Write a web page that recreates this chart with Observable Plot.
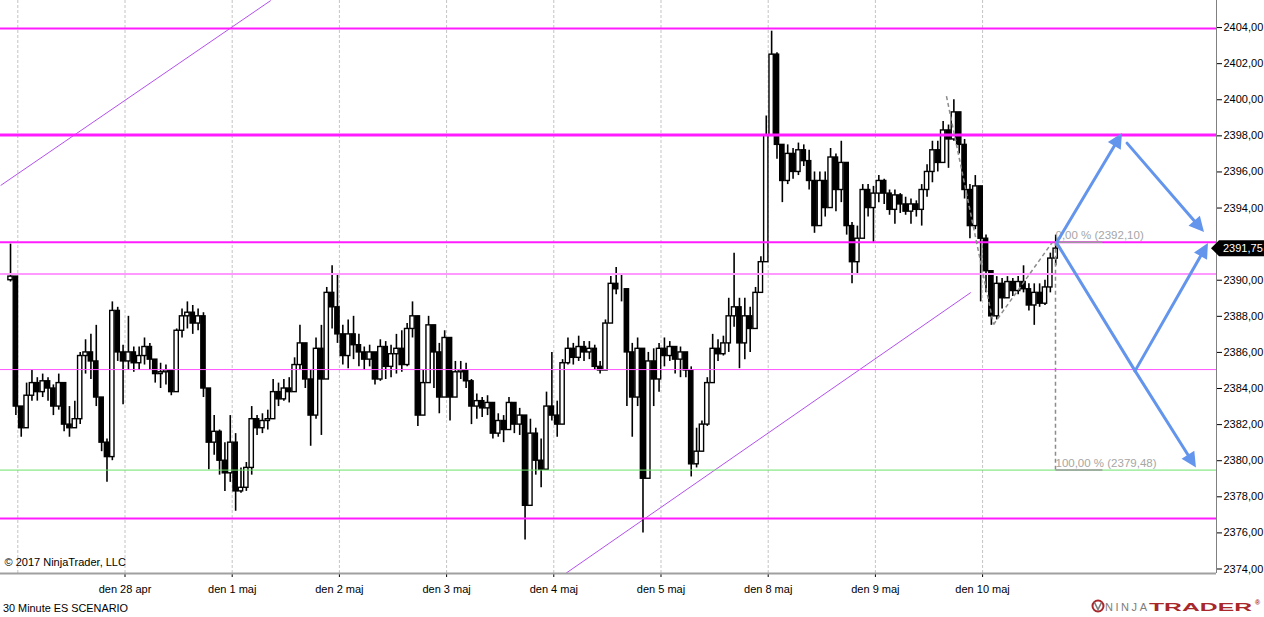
<!DOCTYPE html>
<html><head><meta charset="utf-8">
<script src="https://cdn.jsdelivr.net/npm/d3@7"></script>
<script src="https://cdn.jsdelivr.net/npm/@observablehq/plot@0.6"></script>
<style>
html,body{margin:0;padding:0;background:#fff;overflow:hidden}
#wrap{position:relative;width:1264px;height:617px;font-family:"Liberation Sans",Arial,sans-serif}
#overlay{position:absolute;left:0;top:0;pointer-events:none}
</style></head><body>
<div id="wrap"><div id="chart"></div>
<svg id="overlay" width="1264" height="617"></svg>
</div>
<script>
// ---------- DATA ----------
const firstOpen = 2390.0;
const closes = [
2390.2,2383.0,2381.8,2383.6,2384.3,2383.8,2384.4,2384.0,2383.0,2384.3,
2382.0,2381.8,2382.3,2385.8,2386.0,2385.5,2383.5,2381.0,2380.2,2388.3,
2386.0,2385.5,2386.0,2385.4,2385.8,2386.3,2385.6,2384.8,2384.9,2385.0,
2383.8,2387.2,2388.0,2388.2,2387.6,2388.0,2384.0,2381.0,2381.6,2380.0,
2379.3,2381.0,2378.3,2378.5,2379.6,2382.3,2381.8,2382.2,2382.3,2383.8,
2383.4,2384.0,2383.8,2385.3,2386.5,2384.5,2382.5,2386.2,2384.5,2389.3,
2388.5,2387.0,2385.8,2387.0,2386.4,2386.0,2385.6,2386.0,2384.5,2386.3,
2385.2,2385.9,2386.2,2385.3,2387.3,2388.0,2382.5,2384.3,2387.5,2386.0,
2383.5,2386.8,2383.5,2384.9,2385.0,2384.4,2383.0,2383.3,2382.9,2383.2,
2381.5,2382.2,2381.7,2383.2,2382.0,2382.5,2377.5,2381.5,2380.0,2379.5,
2383.0,2382.5,2382.0,2385.4,2386.2,2385.7,2386.3,2386.0,2386.2,2385.2,
2385.0,2387.6,2389.8,2389.5,2389.5,2386.0,2383.5,2386.2,2379.0,2385.5,
2384.5,2386.2,2385.8,2386.3,2385.6,2386.0,2385.0,2379.8,2380.5,2382.0,
2384.3,2386.2,2385.9,2386.5,2388.0,2388.5,2386.5,2388.0,2387.3,2389.3,
2391.0,2398.0,2402.5,2397.5,2395.5,2397.0,2396.0,2397.2,2396.6,2395.5,
2393.0,2395.5,2394.0,2396.8,2395.0,2396.5,2393.0,2391.0,2392.3,2395.0,
2394.0,2394.8,2395.5,2394.8,2393.9,2394.7,2394.2,2393.8,2394.2,2393.9,
2395.0,2396.0,2397.2,2396.5,2398.3,2397.8,2399.3,2397.5,2395.0,2393.0,
2395.2,2392.3,2390.5,2388.0,2389.8,2389.0,2389.9,2389.4,2389.9,2389.5,
2388.6,2389.3,2388.7,2389.6,2391.2,2391.75];
const highs = [
2392.0,2390.0,2383.0,2384.3,2385.0,2384.6,2384.8,2384.6,2384.2,2384.8,
2384.0,2383.0,2383.3,2386.0,2386.7,2387.0,2387.5,2383.5,2381.2,2388.8,
2388.5,2386.4,2388.0,2386.3,2386.3,2386.8,2386.5,2385.6,2385.4,2385.3,
2385.0,2387.3,2388.4,2388.8,2388.6,2388.4,2388.2,2383.0,2382.5,2381.7,
2381.0,2382.5,2381.5,2379.6,2379.9,2383.0,2382.5,2382.6,2382.8,2384.5,
2384.3,2384.5,2384.6,2385.7,2387.5,2386.5,2385.0,2386.8,2387.5,2389.6,
2390.8,2390.3,2387.5,2387.8,2388.0,2387.0,2386.3,2386.4,2385.5,2386.7,
2386.6,2386.4,2387.0,2387.2,2387.6,2388.8,2388.0,2385.0,2388.0,2387.5,
2386.5,2387.2,2386.5,2385.5,2385.5,2385.4,2384.5,2383.7,2383.5,2383.6,
2383.0,2382.6,2382.5,2383.5,2383.2,2382.9,2382.5,2382.3,2381.8,2381.2,
2383.8,2386.0,2383.3,2385.6,2386.8,2386.5,2386.9,2386.6,2386.6,2386.4,
2385.5,2387.8,2390.2,2390.7,2390.3,2389.5,2386.5,2386.8,2384.0,2386.0,
2386.2,2386.5,2386.8,2386.6,2386.3,2386.3,2386.0,2385.2,2381.8,2382.2,
2384.6,2387.0,2386.7,2386.9,2389.0,2391.5,2389.0,2389.0,2388.5,2389.6,
2391.3,2399.1,2403.8,2402.6,2397.5,2397.5,2397.3,2397.6,2397.5,2397.2,
2396.0,2396.0,2396.0,2397.3,2397.0,2397.7,2396.5,2393.2,2393.0,2395.3,
2395.3,2395.2,2395.8,2395.6,2395.0,2395.0,2394.8,2394.6,2394.5,2394.4,
2395.3,2396.4,2397.7,2397.7,2398.8,2398.6,2400.0,2399.3,2397.8,2395.3,
2395.8,2394.0,2392.5,2390.5,2390.2,2390.1,2390.2,2390.1,2390.2,2390.8,
2389.8,2389.8,2389.8,2390.0,2391.5,2392.5];
const lows = [
2389.9,2382.5,2381.3,2381.8,2383.3,2383.3,2383.5,2383.3,2382.5,2382.8,
2381.6,2381.3,2381.8,2382.0,2384.8,2384.5,2383.0,2380.5,2378.8,2380.0,
2385.5,2383.1,2385.0,2384.9,2385.0,2385.3,2385.0,2384.3,2384.0,2384.2,
2383.6,2383.8,2386.8,2387.3,2387.0,2387.2,2383.5,2379.5,2380.3,2379.2,
2378.3,2378.8,2377.2,2378.2,2378.3,2379.2,2381.4,2381.5,2381.7,2382.4,
2383.0,2383.3,2383.2,2384.3,2385.0,2384.0,2380.8,2382.3,2381.4,2384.5,
2387.3,2386.5,2385.3,2385.1,2385.6,2385.2,2385.0,2385.2,2384.2,2384.4,
2384.5,2384.6,2384.8,2384.9,2385.2,2386.8,2381.9,2382.6,2384.5,2384.0,
2382.6,2383.5,2382.2,2383.6,2384.5,2384.0,2382.0,2382.3,2382.4,2382.5,
2381.2,2381.3,2381.0,2381.7,2381.5,2381.4,2375.6,2377.5,2379.2,2378.5,
2379.5,2382.2,2381.3,2382.0,2385.3,2385.3,2385.5,2385.5,2385.6,2385.0,
2384.8,2385.0,2387.6,2389.2,2388.8,2383.0,2381.3,2383.0,2376.0,2379.0,
2383.0,2383.8,2385.2,2385.5,2384.8,2384.6,2384.6,2379.1,2379.6,2380.5,
2381.9,2384.3,2385.5,2385.8,2386.0,2387.4,2385.1,2385.6,2386.0,2387.3,
2389.3,2391.0,2398.0,2396.7,2394.3,2395.3,2395.6,2395.8,2396.3,2395.0,
2392.6,2393.0,2393.5,2394.0,2393.8,2394.3,2392.5,2389.8,2390.3,2392.3,
2393.5,2392.1,2394.3,2394.2,2393.6,2393.1,2393.7,2393.6,2393.1,2393.5,
2393.0,2394.6,2395.4,2396.0,2396.8,2396.2,2397.7,2397.0,2394.5,2392.3,
2392.8,2388.8,2389.3,2387.5,2387.8,2388.4,2389.1,2389.1,2389.2,2389.3,
2388.3,2387.5,2388.5,2388.6,2389.3,2390.8];
const barStart = -0.068;      // session day of first bar
const barsPerDay = 20;
const gridDays = [0,1,2,3,4,5,6,7,8,9];
const dayTicks = [1,2,3,4,5,6,7,8,9];
const dayLabels = ["den 28 apr","den 1 maj","den 2 maj","den 3 maj","den 4 maj","den 5 maj","den 8 maj","den 9 maj","den 10 maj"];
const priceTicks = [2374,2376,2378,2380,2382,2384,2386,2388,2390,2394,2396,2398,2400,2402,2404];
const levelPrices = [2403.95, 2398.05, 2392.10, 2390.35, 2385.05, 2379.48, 2376.80];
const channelUpper = [[-0.16, 2395.25], [2.36, 2405.5]];
const channelLower = [[5.11, 2373.75], [8.89, 2389.32]];
const dashedSwings = [[[8.663, 2400.2], [9.102, 2387.55]], [[9.102, 2387.55], [9.65, 2392.1]]];
const fibDay = [9.68, 10.118];
const fibPrices = [2392.10, 2379.48];
const fibLabels = ["0,00 % (2392,10)", "100,00 % (2379,48)"];
const scenarioArrows = [
  [[9.70, 2392.1], [10.305, 2398.13], true],
  [[10.352, 2397.57], [11.07, 2392.64], true],
  [[9.70, 2392.0], [10.427, 2384.95], false],
  [[10.427, 2384.95], [11.107, 2392.03], true],
  [[10.427, 2384.95], [10.995, 2379.6], true]
];
const lastPrice = 2391.75;

// ---------- STYLES ----------
const levelColors = ["#ff1cff","#ff1cff","#ff1cff","#ff99ff","#ff55ff","#6be36b","#ff1cff"];
const levelWidths = [2, 3, 2, 2, 1, 1, 2];
const fmtPrice = v => v.toFixed(2).replace(".", ",");
const FONT = "Liberation Sans, Arial, sans-serif";

const bars = closes.map((c, i) => ({
  x: barStart + i / barsPerDay,
  open: i ? closes[i - 1] : firstOpen,
  close: c, high: highs[i], low: lows[i]
}));

const xDomain = [-0.1614, 11.182];
const yDomain = [2373.75, 2405.5];

function priceMarker(index, scales, values, dim) {
  const y = scales.y(lastPrice);
  const x0 = dim.width - dim.marginRight;
  const g = d3.create("svg:g");
  g.append("path").attr("d", `M${x0-5},${y} L${x0+3},${y-8} H${dim.width} V${y+8} H${x0+3} Z`).attr("fill", "#000");
  g.append("text").attr("x", x0 + 7).attr("y", y).attr("dy", "0.35em").attr("fill", "#fff")
    .attr("text-anchor", "start").attr("font-size", 11).attr("font-family", FONT).text(fmtPrice(lastPrice));
  return g.node();
}

function arrowsMark(index, scales) {
  const g = d3.create("svg:g");
  const col = "#6495ed";
  for (const [a, b, head] of scenarioArrows) {
    const x1 = scales.x(a[0]), y1 = scales.y(a[1]), x2 = scales.x(b[0]), y2 = scales.y(b[1]);
    const len = Math.hypot(x2 - x1, y2 - y1), ux = (x2 - x1) / len, uy = (y2 - y1) / len;
    const L = head ? 15 : 0, W = 15;
    const bx = x2 - ux * L, by = y2 - uy * L;
    g.append("line").attr("x1", x1).attr("y1", y1).attr("x2", head ? bx + ux * 2 : x2).attr("y2", head ? by + uy * 2 : y2)
      .attr("stroke", col).attr("stroke-width", 3).attr("stroke-linecap", "round");
    if (head) {
      const nx = -uy, ny = ux;
      g.append("path").attr("d", `M${x2},${y2} L${bx + nx*W/2},${by + ny*W/2} L${bx - nx*W/2},${by - ny*W/2} Z`).attr("fill", col);
    }
  }
  return g.node();
}

const chart = Plot.plot({
  width: 1264, height: 617,
  marginLeft: 0, marginRight: 48, marginTop: 0, marginBottom: 44,
  style: {fontFamily: FONT, fontSize: "11px", color: "#000", background: "#fff", overflow: "visible"},
  x: {type: "linear", domain: xDomain, ticks: dayTicks, tickFormat: d => dayLabels[dayTicks.indexOf(d)], tickSize: 4, tickPadding: 8, label: null},
  y: {domain: yDomain, axis: "right", ticks: priceTicks, tickFormat: fmtPrice, tickSize: 5, tickPadding: 2, label: null},
  marks: [
    Plot.ruleX(gridDays, {x: d => d, stroke: "#c4c4c4", strokeDasharray: "3,2"}),
    Plot.link([channelUpper], {x1: d => d[0][0], y1: d => d[0][1], x2: d => d[1][0], y2: d => d[1][1], stroke: "#b450f0", strokeWidth: 1, clip: true}),
    Plot.link([channelLower], {x1: d => d[0][0], y1: d => d[0][1], x2: d => d[1][0], y2: d => d[1][1], stroke: "#b450f0", strokeWidth: 1, clip: true}),
    Plot.ruleX(bars, {x: "x", y1: d => Math.min(d.low, d.open, d.close), y2: d => Math.max(d.high, d.open, d.close), stroke: "#000", strokeWidth: 1.6}),
    Plot.rect(bars, {x1: d => d.x - 0.02, x2: d => d.x + 0.02, y1: "open", y2: "close",
      fill: d => d.close >= d.open ? "#fff" : "#000", stroke: "#000", strokeWidth: 1.4}),
    ...levelPrices.map((p, i) => Plot.ruleY([p], {stroke: levelColors[i], strokeWidth: levelWidths[i]})),
    Plot.link(dashedSwings, {x1: d => d[0][0], y1: d => d[0][1], x2: d => d[1][0], y2: d => d[1][1], stroke: "#8c8c8c", strokeWidth: 1.5, strokeDasharray: "4,3"}),
    Plot.ruleX([fibDay[0]], {y1: fibPrices[0], y2: fibPrices[1], stroke: "#8c8c8c", strokeWidth: 1.5, strokeDasharray: "4,3"}),
    Plot.link(fibPrices, {x1: fibDay[0], x2: fibDay[1], y1: d => d, y2: d => d, stroke: "#9a9a9a", strokeWidth: 1.5}),
    Plot.text(fibPrices, {x: fibDay[0], y: d => d, text: (d, i) => fibLabels[i], textAnchor: "start", dy: -7, fill: "#a6a6a6", fontSize: 11.5}),
    arrowsMark,
    Plot.ruleY([yDomain[0]], {stroke: "#a0a0a0", strokeWidth: 2}),
    Plot.ruleX([xDomain[1]], {stroke: "#808080", strokeWidth: 1}),
    Plot.text(["© 2017 NinjaTrader, LLC"], {frameAnchor: "bottom-left", dx: 4, dy: -11, textAnchor: "start", lineAnchor: "middle", fill: "#000", fontSize: 11}),
    priceMarker
  ]
});
document.getElementById("chart").appendChild(chart);

// footer + logo
const ov = d3.select("#overlay");
ov.append("text").attr("x", 3).attr("y", 612).attr("font-size", 10.5).attr("font-family", FONT)
  .attr("textLength", 125).attr("lengthAdjust", "spacingAndGlyphs").attr("fill", "#000").text("30 Minute ES SCENARIO");
const lg = ov.append("g").attr("transform", "translate(1080,596)");
lg.append("circle").attr("cx", 18).attr("cy", 10).attr("r", 5.5).attr("fill", "none").attr("stroke", "#a8272b").attr("stroke-width", 2);
lg.append("path").attr("d", "M14.5,6.5 L18,13.5 L21.5,6.5").attr("fill", "none").attr("stroke", "#7a7a7a").attr("stroke-width", 1.6);
lg.append("text").attr("x", 25).attr("y", 14.5).attr("font-size", 11).attr("font-family", FONT)
  .attr("fill", "#7d7d7d").attr("textLength", 42).attr("lengthAdjust", "spacing").text("NINJA");
lg.append("text").attr("x", 69).attr("y", 14.5).attr("font-size", 11.5).attr("font-weight", "bold").attr("font-family", FONT)
  .attr("fill", "#a8272b").attr("textLength", 103).attr("lengthAdjust", "spacingAndGlyphs").text("TRADER");
lg.append("text").attr("x", 175).attr("y", 9).attr("font-size", 7).attr("font-weight", "bold").attr("fill", "#a8272b").text("®");
</script>
</body></html>
